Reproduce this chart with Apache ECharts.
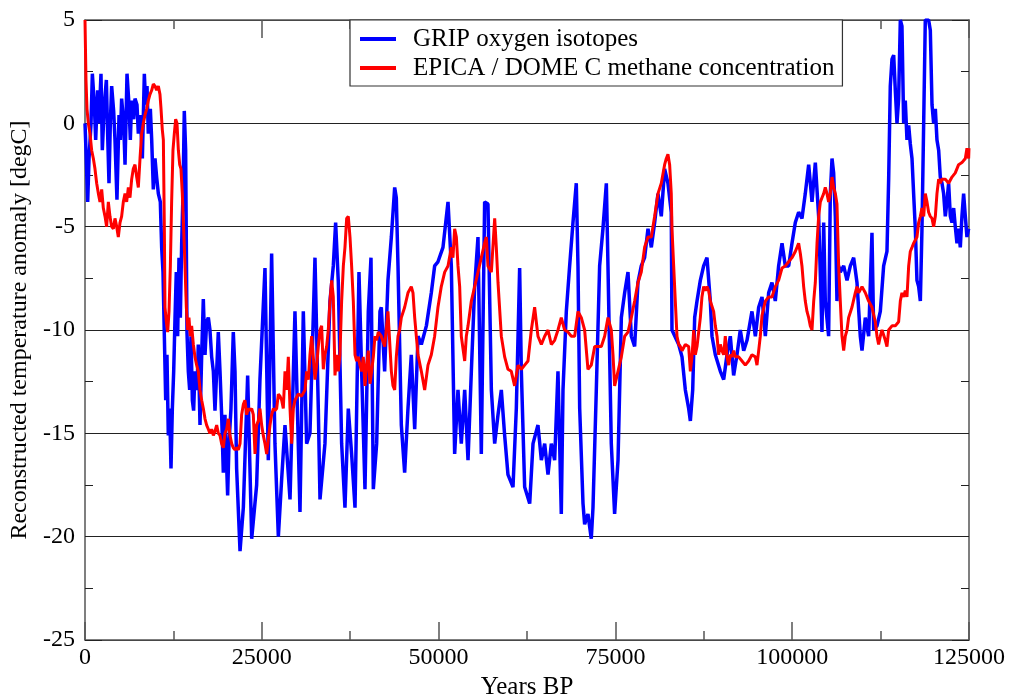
<!DOCTYPE html>
<html><head><meta charset="utf-8">
<script src="https://cdn.jsdelivr.net/npm/echarts@6/dist/echarts.min.js"></script>
<style>html,body{margin:0;padding:0;background:#fff}#c{width:1011px;height:694px}</style>
</head><body><div id="c"></div><script>
// GRIP oxygen isotopes (blue)
const gripYears = [0,140,380,570,850,1040,1320,1510,1790,1980,2260,2450,2730,3020,3200,3390,3580,3770,4050,4240,4520,4810,5000,5180,5470,5660,5940,6220,6410,6600,6880,7070,7350,7540,7820,8110,8390,8580,8770,8950,9240,9430,9660,9900,10130,10370,10650,10840,11030,11220,11410,11590,11780,11970,12160,12350,12540,12730,12910,13100,13290,13480,13670,13860,14040,14230,14420,14610,14800,14990,15180,15360,15550,15840,16020,16260,16500,16730,16970,17200,17440,17670,17910,18150,18380,18620,18850,19090,19320,19560,19790,20170,20360,20640,20970,21210,21440,21920,22390,23000,23570,24270,24740,25450,25920,26390,26860,27340,27810,28280,28990,29690,30400,30870,31340,31810,32520,32990,33230,33930,34640,35110,35440,35820,36290,36760,37230,37700,38180,38740,39120,39590,40060,40440,40770,41240,41710,
41900,42370,42840,43320,43790,44020,44260,44730,45200,45670,46140,46620,47090,47560,48270,48970,49440,49910,50620,51330,51800,52270,52740,53210,53690,54160,54630,55100,55570,56040,56510,56980,57460,57930,58400,58870,59340,59810,60520,60990,61460,61700,62170,62880,63350,64050,64530,65000,65470,65940,66410,66880,67350,67590,68060,68530,69000,69470,69710,69950,70420,70650,71120,71590,71830,72300,72770,73240,73720,73950,74420,74890,75370,75840,76310,76780,77250,77720,78190,78660,79130,79610,80080,80550,81020,81490,81960,82430,82900,
83000,83950,84420,84890,85360,85600,85930,86210,86540,87010,87480,87950,88420,88660,89130,89840,90310,90780,91250,91720,92190,92660,93140,93610,94310,94790,95260,95730,96200,96670,97140,97610,98080,98560,99030,99500,99970,100440,100910,101380,101850,102330,102800,103270,103740,104210,104450,104680,105150,105390,105630,105860,106100,106330,106570,106800,107280,107750,108220,108690,109160,109630,109870,110340,110810,111280,111520,111990,112460,112930,113400,113640,113870,114110,114350,114580,114820,115050,115290,115520,115760,115990,116230,116470,116700,116940,117170,117410,117640,117880,118120,118350,118590,118820,119290,119530,119770,120000,120240,120470,120710,120940,121180,121410,121650,121880,122120,122360,122590,122830,123060,123300,123530,123770,124000,124240,124480,124710,124950];
const gripTemp = [0.0,-1.3,-3.8,-1.7,0.0,2.4,0.9,-0.8,1.6,0.0,2.4,-1.3,0.9,2.1,-0.5,-2.9,0.0,1.8,0.6,-0.8,-3.7,0.4,-0.8,1.2,0.0,-2.0,2.4,0.9,-0.8,1.1,0.2,1.2,0.9,-0.5,0.4,-1.7,2.4,0.9,1.8,-0.5,0.7,-0.8,-3.2,-1.7,-2.6,-3.4,-3.8,-6.0,-7.2,-10.3,-13.4,-11.2,-15.1,-13.8,-16.7,-13.8,-12.0,-9.4,-7.2,-10.3,-6.5,-9.4,-5.8,-3.4,0.6,-1.3,-10.1,-12.0,-12.9,-10.3,-13.4,-13.9,-12.0,-12.9,-10.7,-14.6,-11.2,-8.5,-11.2,-9.6,-9.4,-10.0,-11.3,-12.0,-13.9,-12.0,-10.1,-12.0,-14.1,-16.9,-14.1,-18.0,-15.5,-13.8,-10.1,-12.0,-16.7,-20.7,-18.6,-12.2,-20.1,-17.5,-12.4,-7.0,-16.3,-6.3,-15.5,-20.0,-17.2,-14.6,-18.2,-9.1,-18.8,-9.1,-15.5,-15.0,-6.5,-13.8,-18.2,-15.5,-8.6,-6.9,-4.8,-7.7,-15.5,-18.6,-13.8,-16.0,-18.6,-7.2,-12.0,-17.7,-9.1,-6.5,-17.7,-15.5,-9.1,
-8.9,-12.0,-7.6,-5.5,-3.1,-3.6,-6.9,-14.6,-16.9,-13.8,-11.2,-14.8,-10.3,-10.7,-9.8,-8.2,-6.9,-6.7,-6.0,-3.8,-6.9,-16.0,-12.9,-15.5,-12.9,-16.3,-12.0,-7.9,-5.5,-16.0,-3.8,-3.9,-12.9,-15.5,-14.1,-12.9,-15.1,-17.0,-17.6,-13.8,-7.0,-12.0,-17.6,-18.4,-15.5,-14.6,-16.3,-15.5,-17.0,-15.5,-16.3,-12.0,-18.9,-12.9,-9.1,-6.9,-4.8,-2.9,-6.9,-13.8,-18.4,-19.4,-18.9,-20.1,-18.6,-12.9,-6.9,-5.1,-2.9,-6.9,-15.5,-18.9,-16.3,-9.4,-8.2,-7.2,-10.3,-10.8,-7.7,-6.9,-6.5,-5.1,-6.0,-4.8,-3.4,-4.5,-2.2,-2.9,-4.3,
-10.0,-10.7,-11.3,-12.9,-13.8,-14.4,-12.9,-9.4,-8.6,-7.6,-6.9,-6.5,-8.6,-10.3,-11.2,-12.0,-12.4,-11.2,-10.3,-12.2,-11.2,-10.0,-11.0,-10.5,-9.1,-10.3,-8.9,-8.4,-10.3,-8.2,-7.7,-8.6,-6.9,-5.8,-6.9,-6.9,-5.8,-4.8,-4.3,-4.6,-3.4,-2.0,-3.8,-1.9,-4.5,-10.1,-4.8,-8.6,-10.3,-3.4,-1.7,-2.4,-4.5,-8.6,-6.9,-7.2,-6.9,-7.6,-6.9,-6.5,-7.7,-10.3,-11.0,-9.4,-10.3,-5.3,-10.0,-9.8,-9.1,-6.9,-6.2,-2.7,1.8,3.1,3.3,1.6,0.0,1.2,5.0,4.7,0.0,1.1,-0.8,-0.1,-1.0,-1.7,-3.4,-5.1,-7.6,-7.9,-8.6,-5.1,0.0,5.0,5.0,4.5,0.9,0.0,0.7,-0.8,-1.3,-2.6,-2.9,-3.4,-4.5,-3.8,-2.9,-4.5,-4.8,-4.1,-5.0,-5.8,-5.1,-6.0,-4.5,-3.4,-4.5,-5.5,-5.1];

// EPICA / DOME C methane concentration (red)
const epicaYears = [0,140,280,470,710,940,1180,1410,1650,1890,2120,2360,2590,2830,3060,3300,3530,3770,4010,4240,4480,4710,4950,5180,5420,5660,5890,6130,6360,6600,6830,7070,7310,7540,7780,8010,8250,8480,8720,8950,9190,9430,9660,9900,10130,10370,10600,10750,10930,11080,11220,11310,11500,11690,11880,12070,12250,12440,12630,12820,13010,13200,13390,13570,13760,13950,14140,14330,14520,14700,14890,15080,15320,15550,15790,16020,16260,16500,16730,16970,17200,17440,17670,17910,18150,18380,18620,18850,19090,19320,19560,19790,20030,20270,20500,20740,20970,21210,21440,21680,21920,22150,22390,22620,22860,23090,23330,23570,23800,24040,24270,24510,24740,24980,25210,25450,25690,25920,26160,26390,26630,26860,27100,27340,27570,27810,28040,28280,28510,28750,28990,29220,29460,29690,30160,30630,31110,31340,31580,31810,32050,32280,32520,32760,32990,33230,33460,33700,33930,34170,34400,34640,34880,35110,35350,35580,35820,36050,36290,36530,36760,37000,37230,37470,37700,37940,38180,38410,38650,38880,39120,39350,39590,39830,40060,40300,40530,40770,41000,41240,41470,
41900,42370,42840,43320,43550,43790,44020,44260,44490,44730,45200,45670,46140,46380,46620,46850,47090,47560,48030,48500,48970,49440,49910,50380,50860,51330,51800,52030,52270,52510,52740,52980,53210,53690,53920,54160,54630,55100,55570,56040,56510,56750,56980,57460,57930,58160,58400,58870,59340,59810,60280,60750,61230,61700,62170,62640,63110,63580,64050,64530,65000,65470,65940,66410,66880,67350,67820,68300,68770,69240,69710,70180,70650,71120,71590,72070,72540,73010,73480,73950,74420,74660,74890,75370,75840,76310,76780,77250,77720,78190,78660,79130,79610,80080,80550,81020,81490,81960,82200,82430,82670,82900,
83000,83240,83470,83710,83950,84180,84420,84890,85360,85600,85830,86070,86300,86540,86770,87010,87240,87480,87720,87950,88190,88420,88660,88890,89130,89370,89600,89840,90070,90310,90540,90780,91020,91250,91490,91720,91960,92430,92900,93370,93840,94310,94790,95020,95260,95490,95730,96200,96670,97140,97610,98080,98560,99030,99500,99970,100440,100680,100910,101150,101380,101620,101850,102090,102330,102560,102800,103040,103270,103510,103740,103980,104210,104450,104680,104920,105150,105390,105630,105860,106100,106330,106570,106800,107040,107280,107510,107750,107980,108450,108920,109160,109400,109870,110340,110810,111280,111750,111990,112220,112460,112700,113170,113400,113640,114110,114580,115050,115290,115520,115760,115990,116230,116470,116700,116940,117170,117410,117640,117880,118120,118350,118590,118820,119060,119290,119530,119770,120000,120240,120470,120710,120940,121180,121650,122120,122590,123060,123530,124000,124480,124710,124950,125000];
const epicaTemp = [5.0,2.1,0.7,0.0,-0.5,-1.3,-1.7,-2.2,-2.9,-3.4,-3.8,-3.2,-4.1,-4.5,-5.0,-3.8,-4.5,-5.0,-5.1,-4.6,-5.0,-5.5,-4.8,-4.5,-3.8,-3.4,-3.8,-3.1,-3.6,-2.7,-2.2,-2.0,-2.6,-3.1,-1.7,-0.5,0.0,0.4,0.7,1.1,1.4,1.6,1.9,1.8,1.6,1.8,1.4,0.7,-0.3,-0.8,-5.1,-8.9,-9.6,-10.1,-9.1,-6.9,-3.8,-1.3,-0.5,0.2,0.0,-1.3,-2.0,-2.2,-3.4,-5.1,-6.9,-8.9,-10.0,-9.4,-10.3,-9.8,-10.7,-11.3,-11.7,-12.0,-12.9,-13.4,-13.8,-14.3,-14.6,-14.8,-15.0,-14.8,-15.1,-14.9,-14.6,-15.0,-15.1,-15.5,-15.7,-15.0,-14.8,-14.3,-15.1,-15.5,-15.7,-15.8,-15.7,-15.8,-15.5,-14.1,-13.6,-13.4,-14.1,-13.8,-13.9,-13.8,-14.1,-16.0,-14.6,-14.4,-13.8,-14.6,-15.1,-15.5,-16.0,-15.3,-14.6,-14.1,-13.8,-13.9,-13.8,-13.1,-13.2,-13.4,-13.8,-12.0,-12.9,-11.3,-13.8,-15.5,-13.8,-13.4,-13.1,-13.2,-12.9,-12.0,-12.4,-11.2,-10.3,-11.3,-12.4,-11.7,-10.8,-10.0,-9.8,-11.9,-11.2,-10.8,-10.0,-8.6,-7.6,-8.4,-12.2,-11.2,-12.0,-11.2,-8.6,-6.9,-6.0,-4.6,-4.5,-5.5,-6.9,-8.6,-11.2,-11.5,-11.3,-11.7,-12.0,-11.3,-12.7,-11.7,-11.0,-12.6,-12.0,-11.3,-10.3,-10.5,-10.1,
-10.3,-10.8,-9.1,-12.0,-12.7,-12.9,-11.3,-10.3,-10.0,-9.4,-8.9,-8.2,-7.9,-8.2,-9.4,-10.3,-11.2,-12.0,-12.9,-11.7,-11.2,-10.3,-8.9,-7.9,-7.2,-6.9,-6.0,-6.5,-5.1,-5.5,-6.9,-7.9,-10.3,-11.5,-10.3,-9.8,-8.6,-7.9,-7.2,-6.5,-5.8,-5.5,-6.9,-7.2,-4.6,-6.0,-7.7,-10.3,-11.3,-11.9,-12.0,-12.7,-11.7,-11.9,-11.7,-11.5,-10.0,-8.9,-10.3,-10.7,-10.3,-10.0,-10.7,-10.5,-10.0,-9.4,-10.0,-10.1,-10.3,-10.3,-9.1,-9.4,-10.0,-11.9,-11.7,-10.8,-10.8,-10.8,-10.3,-9.4,-10.0,-11.2,-12.7,-12.0,-11.3,-10.3,-10.1,-9.4,-8.6,-7.7,-7.2,-6.0,-5.5,-5.5,-4.5,-3.4,-2.9,-2.0,-1.7,-1.5,-2.0,-3.4,
-5.1,-6.9,-8.6,-10.3,-10.7,-10.8,-11.0,-10.7,-10.8,-12.0,-11.3,-10.0,-11.2,-10.8,-10.8,-9.4,-8.4,-7.9,-8.1,-7.9,-8.1,-8.6,-8.6,-9.1,-9.8,-10.3,-11.2,-10.7,-11.0,-11.2,-10.3,-11.3,-11.7,-11.2,-11.3,-11.0,-11.3,-11.3,-11.5,-11.7,-11.5,-11.2,-11.3,-11.7,-11.0,-10.3,-9.3,-8.6,-8.4,-8.4,-7.9,-7.6,-7.0,-6.9,-6.7,-6.5,-6.2,-6.0,-5.8,-6.3,-6.9,-7.9,-8.6,-9.1,-9.4,-9.8,-10.0,-8.6,-7.7,-5.8,-4.5,-3.8,-3.6,-3.4,-3.1,-3.4,-3.8,-3.4,-2.6,-3.1,-3.4,-3.9,-6.9,-8.6,-10.3,-11.0,-10.3,-10.0,-9.4,-8.9,-8.2,-7.9,-8.2,-7.9,-8.2,-8.6,-8.9,-9.6,-10.3,-10.7,-10.3,-10.0,-10.5,-10.8,-10.0,-9.8,-9.8,-9.6,-8.6,-8.2,-8.4,-8.1,-8.4,-6.9,-6.2,-6.0,-5.8,-5.8,-5.5,-4.8,-4.5,-4.1,-4.5,-3.4,-3.8,-4.3,-4.5,-4.6,-5.0,-4.5,-3.4,-2.7,-2.9,-2.7,-2.7,-2.9,-2.6,-2.4,-2.0,-1.9,-1.7,-1.2,-1.7,-1.2];

const xMin = 0, xMax = 125000, xStep = 25000;
const yMin = -25, yMax = 5, yStep = 5;
const seriesNames = ['GRIP oxygen isotopes', 'EPICA / DOME C methane concentration'];

const zip = (xs, ys) => xs.map((x, i) => [x, ys[i]]);
const font = 'Liberation Serif';
const axisCol = '#555';

const chart = echarts.init(document.getElementById('c'), null, {renderer: 'canvas'});
const baseX = {
  type: 'value', min: xMin, max: xMax, interval: xStep,
  axisLine: {show: true, onZero: false, lineStyle: {color: axisCol, width: 1.5}},
  axisTick: {show: true, inside: true, length: 18, lineStyle: {color: axisCol, width: 1.5}},
  minorTick: {show: true, splitNumber: 2, length: 9, lineStyle: {color: axisCol, width: 1.5}},
  splitLine: {show: false}
};
const baseY = {
  type: 'value', min: yMin, max: yMax, interval: yStep,
  axisLine: {show: true, onZero: false, lineStyle: {color: axisCol, width: 1.5}},
  axisTick: {show: true, inside: true, length: 17, lineStyle: {color: '#222', width: 1}},
  minorTick: {show: true, splitNumber: 2, length: 8, lineStyle: {color: '#222', width: 1}},
};
chart.setOption({
  animation: false,
  backgroundColor: '#fff',
  grid: {left: 85, right: 42, top: 20, bottom: 54, containLabel: false, outerBoundsMode: 'none'},
  legend: {
    data: seriesNames,
    orient: 'vertical', left: 350, top: 20,
    backgroundColor: '#fff', borderColor: '#333', borderWidth: 1.2,
    padding: [6, 8, 5, 10], itemGap: 3, itemWidth: 36, itemHeight: 4, icon: 'rect',
    textStyle: {fontFamily: font, fontSize: 25, color: '#000', lineHeight: 26, padding: [0, 0, 0, 12]}
  },
  xAxis: [
    Object.assign({}, baseX, {
      position: 'bottom',
      name: 'Years BP', nameLocation: 'middle', nameGap: 30,
      nameTextStyle: {fontFamily: font, fontSize: 25, color: '#000'},
      axisLabel: {fontFamily: font, fontSize: 24, color: '#000', margin: 6, formatter: v => String(v)}
    }),
    Object.assign({}, baseX, {position: 'top', axisLabel: {show: false}})
  ],
  yAxis: [
    Object.assign({}, baseY, {
      position: 'left',
      name: 'Reconstructed temperature anomaly [degC]', nameLocation: 'middle', nameGap: 51,
      nameTextStyle: {fontFamily: font, fontSize: 24, color: '#000'},
      axisLabel: {fontFamily: font, fontSize: 24, color: '#000', margin: 10, formatter: v => String(v)},
      splitLine: {show: true, lineStyle: {color: '#222', width: 1}}
    }),
    Object.assign({}, baseY, {position: 'right', axisLabel: {show: false}, splitLine: {show: false}})
  ],
  series: [
    {name: seriesNames[0], type: 'line', data: zip(gripYears, gripTemp), symbol: 'none', showSymbol: false,
     lineStyle: {color: '#0000ff', width: 3.5}, itemStyle: {color: '#0000ff'}, clip: true, z: 2},
    {name: seriesNames[1], type: 'line', data: zip(epicaYears, epicaTemp), symbol: 'none', showSymbol: false,
     lineStyle: {color: '#ff0000', width: 3}, itemStyle: {color: '#ff0000'}, clip: true, z: 3}
  ]
});
</script></body></html>
